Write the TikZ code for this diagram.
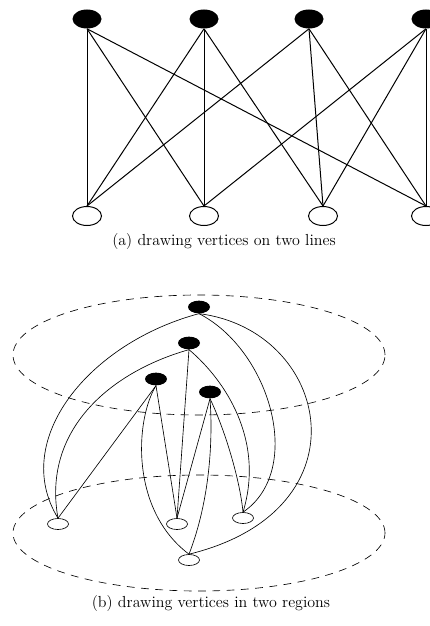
\documentclass[tikz,border=0pt]{standalone}
\usepackage{tikz}
\usetikzlibrary{shapes.geometric}

\begin{document}
\begin{tikzpicture}[x=0.7pt,y=-0.7pt,
      every node/.style={font=\fontsize{11.2}{13}\selectfont},
      bigblack/.style={ellipse,fill=black,inner sep=0pt,minimum width=20.3pt,minimum height=13.3pt},
      bigwhite/.style={ellipse,draw,line width=0.7pt,fill=white,inner sep=0pt,minimum width=20.3pt,minimum height=13.3pt},
      smallblack/.style={ellipse,fill=black,inner sep=0pt,minimum width=15.4pt,minimum height=8.9pt},
      smallwhite/.style={ellipse,draw,line width=0.45pt,fill=white,inner sep=0pt,minimum width=14.7pt,minimum height=7.7pt},
      region/.style={ellipse,draw,line width=0.45pt,dash pattern=on 5.5pt off 4.5pt,inner sep=0pt},
      thick edge/.style={line width=0.7pt},
      thin edge/.style={line width=0.45pt}]
    \useasboundingbox (0,0) rectangle (430,626);
    % (a) two lines
    \foreach \n/\x in {1/87,2/204,3/309,4/426}{\node[bigblack] (t\n) at (\x,19) {};}
    \foreach \n/\x in {1/87,2/204,3/323,4/426}{\node[bigwhite] (b\n) at (\x,216) {};}
    \foreach \a/\b in {1/1,1/2,1/4,2/1,2/2,2/3,3/1,3/3,3/4,4/2,4/3,4/4}{\draw[thick edge] (t\a.south)--(b\b.north);}
    \node (capa) at (224,242) {(a) drawing vertices on two lines};
    % (b) two regions
    \node[region,minimum width=260.4pt,minimum height=84pt] (upreg) at (199,355) {};
    \node[region,minimum width=260.4pt,minimum height=81.2pt] (lowreg) at (199,533) {};
    \node[smallblack] (v1) at (199,307) {};
    \node[smallblack] (v2) at (189,343) {};
    \node[smallblack] (v3) at (156,379) {};
    \node[smallblack] (v4) at (210,392) {};
    \node[smallwhite] (w1) at (58,524) {};
    \node[smallwhite] (w2) at (177,524) {};
    \node[smallwhite] (w3) at (243,518) {};
    \node[smallwhite] (w4) at (189,560) {};
    % curved edges
    \draw[thin edge] (v1.south) .. controls (89,343) and (10,440) .. (w1.north);
    \draw[thin edge] (v2.south) .. controls (110,372) and (42,430) .. (w1.north);
    \draw[thin edge] (v1.south) .. controls (270,350) and (305,470) .. (w3.north);
    \draw[thin edge] (v1.south) .. controls (330,330) and (370,510) .. (w4.north);
    \draw[thin edge] (v2.south) .. controls (225,380) and (265,440) .. (w3.north);
    \draw[thin edge] (v3.south) .. controls (135,420) and (130,510) .. (w4.north);
    \draw[thin edge] (v4.south) .. controls (213,440) and (210,500) .. (w4.north);
    \draw[thin edge] (v4.south) .. controls (225,430) and (240,480) .. (w3.north);
    % straight edges
    \foreach \a/\b in {v2/w2,v3/w1,v3/w2,v4/w2}{\draw[thin edge] (\a.south)--(\b.north);}
    \node (capb) at (211,604) {(b) drawing vertices in two regions};
  \end{tikzpicture}
\end{document}
